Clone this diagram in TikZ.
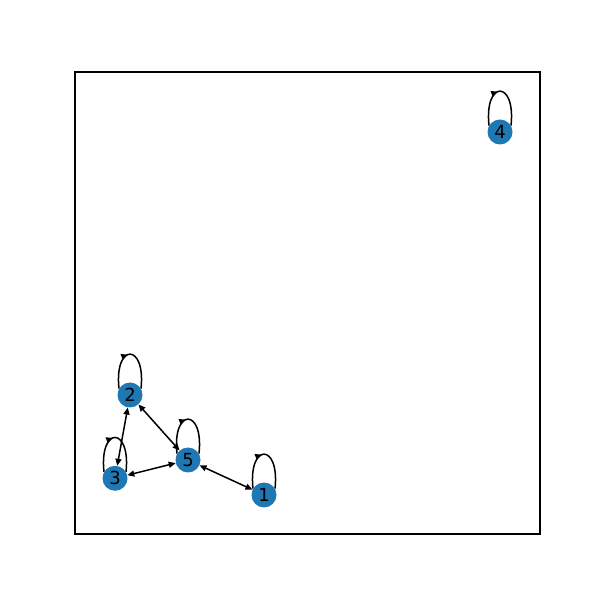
\documentclass[tikz,border=0pt]{standalone}
\usepackage{fontspec}
\setmainfont{DejaVu Sans}
\usetikzlibrary{arrows.meta,decorations.markings,backgrounds}
\definecolor{nodeblue}{HTML}{1F77B4}
\tikzset{
  gnode/.style={circle,fill=nodeblue,draw=none,minimum size=25pt,inner sep=0pt,
    font=\fontsize{18}{20}\selectfont,text=black},
  biedge/.style={line width=1.5pt,{Triangle[length=7pt,width=6pt]}-{Triangle[length=7pt,width=6pt]}},
  selfloop/.style={line width=1.5pt,postaction={decorate},
    decoration={markings,mark=at position 0.47 with {\arrow{Triangle[length=6.5pt,width=6pt]}}}},
  frame/.style={line width=1.1pt}
}
\begin{document}
\begin{tikzpicture}[x=1pt,y=1pt]
\useasboundingbox (0,0) rectangle (600,600);
\draw[frame] (75,66) rectangle (540,528);
\node[gnode] (n1) at (264,105) {1};
\node[gnode] (n2) at (130,205) {2};
\node[gnode] (n3) at (115,121.7) {3};
\node[gnode] (n5) at (188,140) {5};
\node[gnode] (n4) at (500,468) {4};
\begin{pgfonlayer}{background}
\foreach \n in {n1,n2,n3,n5,n4}{
  \draw[selfloop] (\n.150) .. controls +(-5,46) and +(5,46) .. (\n.30);
}
\end{pgfonlayer}
\draw[biedge] (n2) -- (n3);
\draw[biedge] (n2) -- (n5);
\draw[biedge] (n3) -- (n5);
\draw[biedge] (n5) -- (n1);
\end{tikzpicture}
\end{document}
